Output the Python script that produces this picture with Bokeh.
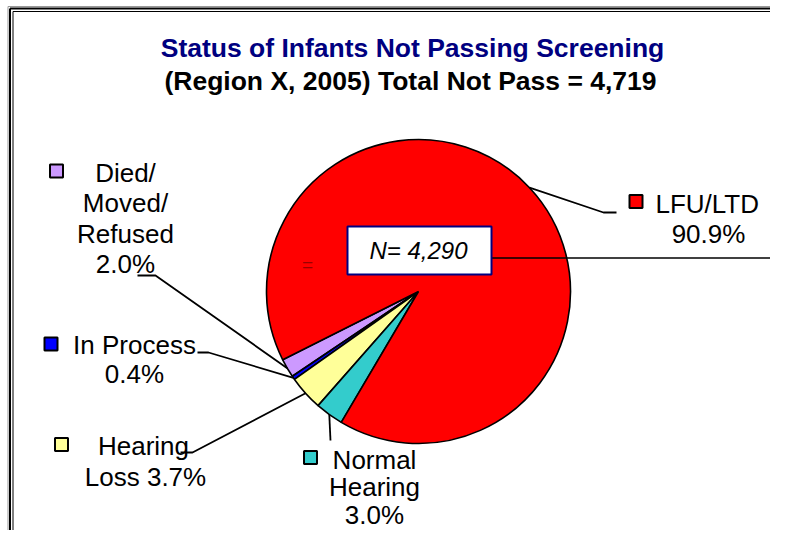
import numpy as np
from bokeh.plotting import figure
from bokeh.models import Range1d, ColumnDataSource
from bokeh.core.properties import value
from bokeh.embed import file_html
from bokeh.resources import INLINE

# ---------------- data ----------------
categories = ["Died/Moved/Refused", "In Process", "Hearing Loss", "Normal Hearing", "LFU/LTD"]
percents = [2.0, 0.4, 3.7, 3.0, 90.9]
colors = ["#CC99FF", "#0000FF", "#FFFF99", "#33CCCC", "#FF0000"]
title_line1 = "Status of Infants Not Passing Screening"
title_line2 = "(Region X, 2005) Total Not Pass = 4,719"
total_not_pass = 4719
lfu_n = 4290

# ---------------- layout helpers (image px -> data) ----------------
W, H = 770, 530
def X(ix):
    return ix
def Y(iy):
    return H - iy

p = figure(width=W, height=H, x_range=Range1d(0, W), y_range=Range1d(0, H),
           output_backend="svg", toolbar_location=None, min_border=0,
           x_axis_location=None, y_axis_location=None)
p.grid.grid_line_color = None
p.outline_line_color = None
p.background_fill_color = "white"
p.border_fill_color = "white"

# frame (double line at left/top)
p.segment(x0=[X(9.5), X(9.5)], y0=[Y(8), Y(8)], x1=[X(9.5), W + 5], y1=[-5, Y(8)],
          line_color="black", line_width=2)
p.segment(x0=[X(12.5), X(12.5)], y0=[Y(11), Y(11)], x1=[X(12.5), W + 5], y1=[-5, Y(11)],
          line_color="black", line_width=1)
p.segment(x0=[X(7.5), X(7.5)], y0=[Y(6), Y(6)], x1=[X(7.5), W + 5], y1=[-5, Y(6)],
          line_color="#999999", line_width=1)

# ---------------- pie ----------------
cx, cy, r = X(418), Y(291), 152
start_deg = 206.7
fr = np.array(percents) / sum(percents)
ends = np.cumsum(fr) * 2 * np.pi + np.deg2rad(start_deg)
starts = ends - fr * 2 * np.pi
src = ColumnDataSource(dict(start=starts, end=ends, color=colors, cat=categories))
p.wedge(x=cx, y=cy, radius=r, start_angle="start", end_angle="end", direction="anticlock",
        fill_color="color", line_color="black", line_width=1.6, source=src)

# ---------------- leader lines ----------------
mids = (starts + ends) / 2
knees = [
    [(155, 275), (137, 275)],
    [(208, 352), (197, 352)],
    [(192, 452), (180, 452)],
    [(330, 440)],
    [(603, 212), (616, 212)],
]
xs, ys = [], []
for m, kn in zip(mids, knees):
    px = [cx + r * np.cos(m)] + [X(k[0]) for k in kn]
    py = [cy + r * np.sin(m)] + [Y(k[1]) for k in kn]
    xs.append(px)
    ys.append(py)
p.multi_line(xs=xs, ys=ys, line_color="black", line_width=1.8)

# N box and line
p.segment(x0=[X(491)], y0=[Y(257.5)], x1=[W + 5], y1=[Y(257.5)], line_color="black", line_width=1.6)
p.quad(left=[X(347)], right=[X(491)], top=[Y(226)], bottom=[Y(274)],
       fill_color="white", line_color="#000080", line_width=2)
p.text(x=[X(418)], y=[Y(250)], text=[f"N= {lfu_n:,}"], text_font=value("Liberation Sans"),
       text_font_style="italic", text_font_size="24px", text_align="center",
       text_baseline="middle", text_color="black")
p.text(x=[X(307)], y=[Y(264)], text=["="], text_font=value("Liberation Sans"),
       text_font_size="19px", text_align="center", text_baseline="middle", text_color="#990000")

# ---------------- titles ----------------
p.text(x=[X(412)], y=[Y(47.5)], text=[title_line1], text_font=value("Liberation Sans"),
       text_font_style="bold", text_font_size="26.5px", text_align="center",
       text_baseline="middle", text_color="#000080")
p.text(x=[X(410)], y=[Y(80)], text=[title_line2], text_font=value("Liberation Sans"),
       text_font_style="bold", text_font_size="26.5px", text_align="center",
       text_baseline="middle", text_color="black")

# ---------------- labels with legend keys ----------------
pct = [f"{v:.1f}%" for v in percents]
label_lines = [
    ["Died/", "Moved/", "Refused", pct[0]],
    ["In Process", pct[1]],
    ["Hearing", "Loss " + pct[2]],
    ["Normal", "Hearing", pct[3]],
    ["LFU/LTD", pct[4]],
]
# (center x, centre y of first line, line gap) in image px
label_pos = [(125, 172, 30.5), (134, 344, 29), (145, 445, 31), (374, 459, 27.5), (708, 203.5, 30)]
key_pos = [(56, 170.5), (50.5, 343.5), (61, 444), (310, 457), (635.5, 201)]

tx, ty, tt, ta = [], [], [], []
for i, lines in enumerate(label_lines):
    lx, ly, gap = label_pos[i]
    for j, s in enumerate(lines):
        if i == 4 and j == 0:
            tx.append(X(655)); ta.append("left")
        elif i == 2 and j == 0:
            tx.append(X(143)); ta.append("center")
        else:
            tx.append(X(lx)); ta.append("center")
        ty.append(Y(ly + j * gap))
        tt.append(s)
lsrc = ColumnDataSource(dict(x=tx, y=ty, text=tt, align=ta))
p.text(x="x", y="y", text="text", text_align="align", source=lsrc,
       text_font=value("Liberation Sans"), text_font_size="26px",
       text_baseline="middle", text_color="black")

ksrc = ColumnDataSource(dict(x=[X(k[0]) for k in key_pos], y=[Y(k[1]) for k in key_pos], color=colors))
p.scatter(x="x", y="y", marker="square", size=13, fill_color="color", line_color="black",
          line_width=2, source=ksrc)

open("out.html", "w").write(file_html(p, INLINE))
